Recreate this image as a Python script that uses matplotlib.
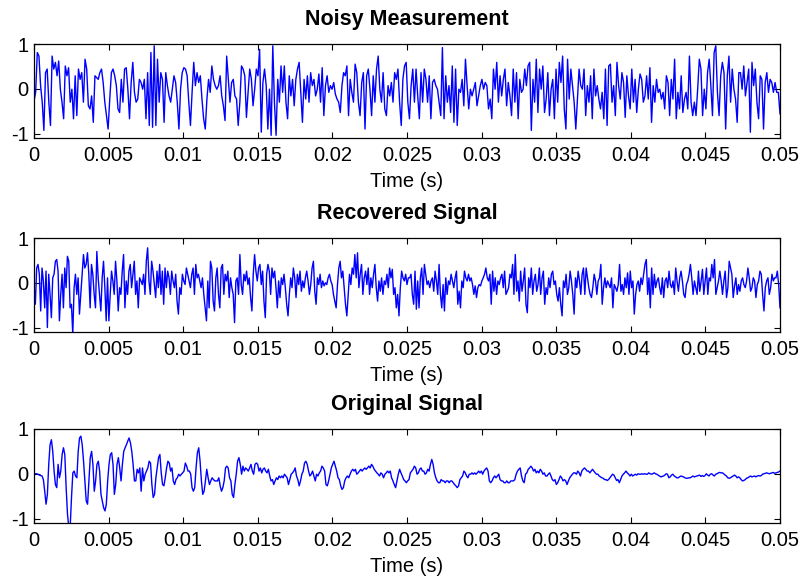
import numpy as np
import matplotlib
matplotlib.use("Agg")
import matplotlib.pyplot as plt

plt.rcParams['font.family'] = ['Liberation Sans', 'DejaVu Sans']

titles = ["Noisy Measurement", "Recovered Signal", "Original Signal"]
xlabel_text = "Time (s)"
x_ticks = [0, 0.005, 0.01, 0.015, 0.02, 0.025, 0.03, 0.035, 0.04, 0.045, 0.05]
x_tick_labels = ["0", "0.005", "0.01", "0.015", "0.02", "0.025", "0.03", "0.035", "0.04", "0.045", "0.05"]
y_ticks = [-1, 0, 1]
y_tick_labels = ["-1", "0", "1"]
duration = 0.05

noisy = [
    -0.27,-0.08,0.81,0.73,0.07,-0.30,-0.93,0.36,0.44,-0.30,-0.82,0.73,0.44,0.59,0.29,0.62,-0.01,-0.30,-0.67,0.51,
    0.29,0.47,-0.30,-0.01,-0.67,0.29,-0.60,0.44,0.21,0.36,-0.30,0.66,0.44,-0.38,-0.45,-0.16,-0.75,0.29,0.25,0.21,
    0.36,0.44,0.14,-0.30,-0.60,-0.90,-0.23,0.36,0.44,0.29,0.07,-0.45,-0.53,0.21,-0.30,0.44,0.47,-0.01,-0.67,0.14,
    0.59,-0.08,-0.30,-0.23,0.21,0.14,-0.01,0.21,-0.67,0.36,-0.82,0.81,-0.86,0.96,-0.82,0.66,-0.30,0.36,0.21,-0.75,
    0.36,0.07,-0.16,-0.30,-0.01,0.29,0.14,-0.30,-0.90,-0.01,0.36,0.47,0.44,0.29,-0.30,-0.82,-0.08,0.59,0.07,0.36,
    0.14,0.29,-0.23,-0.67,-0.90,-0.23,0.21,-0.08,0.51,0.21,0.07,-0.01,0.07,0.29,
    -0.16,-0.38,-0.71,0.73,0.21,-0.30,0.14,0.21,-0.16,-0.23,-0.82,-0.30,0.51,0.44,0.29,-0.64,-0.08,0.44,0.21,-0.38,
    -0.01,0.44,0.29,0.88,-0.97,0.14,0.44,0.07,-0.90,-0.01,-1.04,0.96,-0.30,-1.04,0.21,-0.30,0.51,-0.08,0.51,-0.30,
    -0.67,0.29,-0.16,0.21,-0.38,0.21,0.44,0.59,-0.08,-0.75,0.21,-0.23,0.29,-0.30,0.36,0.07,0.21,-0.16,-0.01,0.33,
    -0.30,0.47,-0.60,0.07,0.29,-0.08,0.07,-0.01,0.14,-0.12,-0.23,-0.30,-0.53,0.07,0.36,0.29,0.51,-0.60,0.21,-0.08,
    -0.30,0.55,0.36,-0.30,-0.60,0.14,0.36,-0.90,0.29,0.44,-0.01,-0.60,0.29,-0.30,0.44,0.73,-0.01,-0.30,0.36,-0.45,
    -0.60,0.07,-0.16,0.14,-0.30,0.36,0.21,0.44,-0.30,-0.82,0.21,0.51,0.59,-0.30,-0.67,0.07,0.44,
    -0.30,0.44,-0.16,-0.67,0.36,-0.30,0.44,0.21,-0.30,0.29,-0.67,0.14,0.21,0.07,-0.01,-0.30,-0.60,0.92,-0.67,0.29,
    -0.30,0.07,-0.53,0.51,-0.75,0.44,-0.82,-0.01,-0.08,0.21,-0.38,0.66,0.07,-0.45,-0.01,-0.16,-0.01,0.14,-0.38,-0.16,
    0.07,0.21,-0.01,0.14,0.07,-0.45,-0.23,-0.67,0.44,-0.01,0.59,-0.30,0.29,-0.16,0.21,0.44,-0.38,0.14,-0.16,-0.60,
    0.44,-0.30,0.36,-0.67,0.21,-0.08,-0.01,0.44,0.07,0.51,0.59,-0.93,0.21,-0.30,0.66,-0.53,0.44,-0.01,0.51,-0.53,
    -0.23,0.36,-0.60,-0.01,0.21,-0.67,0.44,-0.30,0.59,0.14,0.73,-0.45,-0.90,0.66,-0.23,0.44,0.07,-0.30,-0.90,-0.23,
    0.44,0.07,-0.01,0.44,-0.60,0.07,-0.30,0.29,-0.67,0.44,-0.16,0.07,-0.23,-0.45,
    -0.08,-0.67,0.44,-0.82,0.51,0.55,-0.30,0.07,-0.60,0.59,0.07,-0.23,0.36,0.14,-0.64,0.29,-0.16,-0.45,0.44,-0.30,
    0.21,-0.53,-0.01,0.33,0.21,-0.30,-0.16,0.29,-0.23,0.47,-0.75,0.07,-0.30,0.21,-0.08,-0.01,-0.23,-0.08,-0.45,0.29,
    0.14,-0.60,0.21,-0.23,0.66,-0.67,-0.08,-0.45,0.29,-0.53,-0.23,-0.08,-0.45,0.73,-0.30,-0.60,-0.30,-0.60,-0.01,0.66,
    0.44,-0.60,-0.01,-0.45,0.36,0.66,0.07,-0.60,0.81,0.96,-0.08,-0.60,0.29,0.59,0.36,-0.90,0.29,0.73,-0.30,0.44,
    -0.01,-0.23,-0.75,0.36,0.36,-0.01,0.51,-0.16,0.14,0.44,-0.97,0.59,0.07,0.44,-0.30,-0.67,0.29,0.21,-0.90,0.14,
    0.36,-0.08,0.21,0.14,-0.08,0.14,-0.08,-0.08,-0.56,
]

recovered = [
    -0.04,-0.48,0.33,0.41,0.19,-0.63,0.33,0.04,-0.56,0.26,-1.00,0.19,-0.26,-0.78,0.11,0.19,0.48,0.52,0.26,-0.85,
    -0.26,0.19,-0.56,0.33,-0.11,0.59,0.48,-0.56,-0.48,-1.15,-0.11,0.19,-0.26,0.11,-0.70,-0.26,0.19,0.63,0.33,0.41,
    0.67,0.19,-0.56,0.41,0.19,-0.26,-0.56,0.70,0.11,-0.26,-0.63,0.11,0.48,-0.11,-0.85,0.11,-0.85,-0.26,0.26,0.04,
    -0.26,0.48,0.04,-0.63,-0.11,-0.26,0.26,0.63,-0.56,0.04,-0.26,0.26,0.41,-0.11,0.19,0.48,-0.26,0.04,-0.56,0.11,
    0.04,-0.04,0.19,-0.26,0.48,0.78,0.04,-0.26,0.48,0.26,-0.04,-0.33,0.26,-0.11,0.41,-0.26,0.26,-0.48,0.33,-0.11,
    0.26,0.11,-0.26,0.26,0.04,-0.11,0.19,-0.41,-0.70,-0.11,-0.26,0.19,0.04,-0.04,0.33,0.19,0.04,-0.11,0.19,0.33,
    -0.26,0.41,0.11,0.19,0.04,-0.11,0.11,-0.26,-0.56,-0.85,0.04,-0.56,0.48,0.33,-0.41,-0.63,0.11,0.33,
    -0.26,-0.56,0.33,0.41,-0.26,0.19,0.04,0.26,-0.33,0.11,-0.11,-0.26,-0.89,0.04,0.11,-0.26,0.63,-0.04,-0.26,0.19,
    0.04,0.26,-0.04,0.11,-0.33,-0.63,0.19,0.63,0.26,0.04,0.33,0.41,-0.04,0.26,-0.41,-0.78,0.19,0.41,0.26,-0.26,
    0.33,0.11,0.26,-0.11,-0.56,0.04,-0.33,0.11,-0.04,0.19,-0.11,-0.48,-0.74,-0.26,0.11,-0.11,0.33,0.11,-0.33,0.19,
    -0.04,0.26,-0.19,0.04,-0.11,0.11,0.26,0.04,-0.26,-0.04,0.33,0.48,-0.19,-0.48,0.11,-0.04,0.19,-0.11,0.04,-0.07,
    0.00,-0.04,0.11,0.19,0.04,-0.04,-0.26,-0.41,-0.56,-0.04,0.33,0.48,0.11,0.26,-0.11,-0.48,-0.74,-0.26,0.19,-0.04,
    0.33,0.19,0.63,0.11,0.67,-0.11,0.19,0.41,-0.26,0.11,0.26,-0.04,0.33,-0.26,0.11,-0.11,0.19,0.41,-0.11,-0.41,
    0.04,-0.19,0.11,-0.26,0.04,-0.04,0.19,-0.11,0.33,0.11,0.30,-0.26,-0.11,-0.56,-0.26,-0.74,-0.11,0.26,0.11,0.04,
    0.19,-0.04,0.11,0.11,
    0.19,-0.26,-0.48,0.26,-0.59,0.04,-0.56,0.11,0.33,-0.26,0.41,0.19,-0.04,0.04,-0.11,0.04,0.11,-0.19,0.26,0.04,
    -0.26,0.41,-0.26,-0.56,-0.04,-0.63,0.11,-0.26,0.04,-0.04,0.19,0.04,-0.11,0.11,0.26,-0.48,-0.19,-0.56,0.04,-0.11,
    0.26,0.11,0.04,0.19,0.04,0.11,-0.04,-0.26,-0.07,-0.33,-0.11,-0.04,-0.07,0.04,0.11,0.19,0.33,0.11,0.04,0.19,
    -0.48,0.26,-0.19,0.11,-0.26,0.04,-0.04,0.11,0.19,-0.11,0.26,-0.26,-0.19,-0.11,0.19,0.11,0.41,-0.26,0.63,-0.19,
    0.04,-0.41,0.26,-0.19,0.04,0.33,-0.48,-0.67,0.11,-0.11,0.33,-0.26,0.04,0.19,-0.19,-0.04,0.33,-0.26,0.11,0.26,
    -0.48,-0.11,-0.26,0.11,-0.11,0.19,0.26,-0.04,0.04,-0.26,-0.41,-0.11,-0.48,-0.74,0.04,-0.11,0.19,-0.26,-0.11,0.26,
    0.04,-0.26,-0.70,0.11,-0.11,0.26,0.04,-0.26,0.19,0.33,-0.26,0.33,0.11,-0.11,-0.26,-0.33,-0.11,0.19,0.04,-0.26,
    0.04,0.11,
    0.41,-0.48,-0.11,0.11,-0.11,0.04,-0.04,-0.11,0.11,-0.56,-0.04,-0.11,-0.19,-0.04,0.41,-0.19,-0.04,-0.26,0.11,-0.11,
    0.22,-0.26,0.26,-0.11,0.04,-0.70,-0.26,-0.04,0.04,-0.19,0.11,-0.04,0.19,0.41,0.52,-0.26,0.11,-0.56,0.33,-0.26,
    0.19,-0.11,0.04,0.11,-0.11,-0.26,0.11,-0.33,0.04,0.11,-0.11,0.26,-0.04,-0.11,0.04,-0.26,0.33,0.04,-0.19,0.11,
    0.26,0.04,-0.26,-0.33,-0.04,0.04,0.19,0.41,0.11,-0.26,0.04,-0.11,-0.26,0.26,-0.19,0.04,0.30,-0.26,0.04,0.33,
    -0.26,0.11,0.04,0.41,0.11,0.52,-0.26,-0.11,0.04,0.26,0.04,-0.26,0.04,0.26,-0.33,-0.11,0.48,0.33,0.19,-0.33,
    -0.07,0.11,-0.26,-0.04,-0.19,0.04,0.11,-0.04,-0.11,0.04,0.33,0.11,-0.19,-0.11,0.11,0.04,-0.33,-0.04,0.04,0.26,
    0.19,-0.26,-0.63,-0.11,0.04,0.11,-0.26,-0.11,0.19,0.04,0.11,0.11,0.26,-0.04,-0.56,
]

original = [
    -0.01,0.00,0.00,-0.01,-0.03,-0.04,-0.05,-0.13,-0.39,-0.68,-0.46,0.21,0.65,0.76,0.50,0.06,-0.24,-0.31,0.21,-0.09,
    0.06,0.43,0.58,0.43,-0.31,-0.90,-1.20,-1.20,-0.53,0.02,0.06,-0.05,-0.09,0.50,0.80,0.84,0.65,0.28,-0.16,-0.61,
    -0.68,-0.16,0.36,0.50,0.21,-0.39,-0.16,0.21,0.28,0.06,-0.46,-0.61,-0.76,-0.83,-0.68,-0.16,0.21,0.43,0.47,0.21,
    -0.46,-0.24,0.21,0.36,0.13,-0.16,0.21,0.50,0.58,0.65,0.73,0.80,0.69,0.50,0.21,-0.16,-0.16,0.10,0.02,0.13,
    -0.39,0.13,-0.16,-0.01,0.06,0.13,0.28,0.24,-0.24,-0.53,-0.46,-0.09,0.13,0.36,0.43,0.02,-0.24,-0.27,-0.09,0.13,
    0.28,0.24,0.06,0.13,-0.16,-0.24,-0.13,-0.09,-0.01,-0.05,-0.01,0.02,0.06,0.24,0.17,0.06,0.06,-0.01,-0.31,-0.39,
    -0.31,0.13,0.47,0.58,0.28,-0.16,-0.46,-0.39,-0.16,0.10,-0.09,-0.24,-0.16,-0.09,-0.13,-0.16,-0.16,
    -0.16,-0.09,-0.27,-0.39,-0.31,-0.16,0.13,0.17,0.13,-0.09,-0.16,-0.46,-0.53,-0.24,-0.01,0.28,0.36,0.21,-0.01,0.17,
    0.06,0.13,0.10,0.06,0.13,0.21,0.06,-0.01,0.21,0.24,0.21,0.06,0.13,0.02,0.10,0.13,0.06,0.02,0.10,-0.05,
    -0.16,-0.13,-0.24,-0.16,-0.09,-0.13,-0.05,-0.09,-0.05,-0.09,-0.01,-0.05,-0.09,-0.24,-0.13,-0.01,0.02,0.06,0.13,-0.05,
    -0.13,-0.27,-0.16,-0.01,0.06,0.24,0.28,0.21,0.06,-0.05,-0.01,0.06,-0.05,-0.16,-0.01,-0.05,0.02,0.06,0.17,0.13,
    0.06,-0.24,-0.27,-0.16,-0.01,0.13,0.21,0.28,0.17,0.06,-0.09,-0.13,-0.27,-0.35,-0.31,-0.16,-0.09,-0.05,-0.09,-0.01,
    0.06,0.10,0.06,0.10,-0.01,0.02,0.06,0.10,0.06,0.10,0.13,0.10,0.13,0.17,0.13,0.21,0.17,0.10,0.06,0.02,
    -0.01,-0.05,0.02,-0.01,-0.09,-0.01,0.02,0.06,0.02,0.06,-0.09,-0.16,-0.24,-0.31,-0.16,-0.01,0.10,0.02,-0.05,-0.13,
    -0.16,-0.20,-0.16,-0.13,
    0.02,0.06,0.10,0.17,0.13,-0.01,0.02,0.10,0.13,0.06,0.06,-0.01,0.02,0.10,0.06,0.21,0.32,0.21,0.02,-0.09,
    -0.16,-0.20,-0.20,-0.13,-0.16,-0.16,-0.20,-0.16,-0.16,-0.20,-0.16,-0.16,-0.20,-0.24,-0.27,-0.31,-0.27,-0.13,-0.09,-0.05,
    0.06,0.02,-0.05,-0.09,-0.01,-0.01,0.02,-0.01,0.02,-0.01,0.02,0.06,0.02,0.06,-0.01,0.06,0.10,0.13,0.06,-0.16,
    -0.20,-0.16,-0.09,-0.05,-0.09,-0.05,-0.01,-0.13,-0.16,-0.16,-0.20,-0.20,-0.16,-0.20,-0.20,-0.16,-0.16,-0.16,-0.13,-0.01,
    0.06,0.10,0.13,-0.05,-0.16,-0.20,-0.01,0.02,0.10,0.13,0.17,0.13,0.06,0.10,0.02,0.06,0.02,0.10,0.06,-0.01,
    0.02,-0.05,-0.05,-0.01,0.02,-0.05,-0.13,-0.16,-0.13,-0.24,-0.20,-0.13,-0.05,-0.09,-0.16,-0.13,-0.16,-0.24,-0.16,-0.09,
    -0.05,-0.01,0.02,0.02,-0.01,0.06,0.02,-0.05,0.06,0.10,0.13,0.10,0.06,0.06,0.02,0.06,0.10,0.06,0.02,-0.01,
    -0.01,-0.05,
    -0.07,-0.09,-0.10,-0.13,-0.13,-0.15,-0.13,-0.09,-0.05,-0.01,-0.03,-0.09,-0.15,-0.13,-0.20,-0.13,-0.05,-0.01,0.02,0.06,
    0.02,-0.01,-0.05,-0.01,-0.05,-0.03,-0.01,-0.03,0.00,-0.01,-0.01,0.00,-0.01,0.00,-0.01,-0.01,0.02,0.00,-0.01,0.00,
    0.02,0.00,-0.01,-0.03,-0.05,-0.07,-0.06,-0.05,-0.03,0.00,-0.01,-0.09,-0.07,-0.03,-0.01,-0.05,-0.07,-0.09,-0.09,-0.07,
    -0.05,-0.06,-0.07,-0.09,-0.10,-0.10,-0.09,-0.09,-0.07,-0.05,-0.07,-0.06,-0.05,-0.04,-0.03,-0.06,-0.04,-0.06,-0.04,0.00,
    -0.03,-0.05,-0.01,0.00,-0.03,-0.05,-0.01,0.00,0.02,0.03,0.02,0.02,0.00,-0.03,-0.05,-0.09,-0.10,-0.09,-0.07,-0.05,
    -0.03,-0.05,-0.09,-0.07,-0.09,-0.13,-0.16,-0.15,-0.13,-0.10,-0.09,-0.07,-0.05,-0.07,-0.06,-0.05,-0.07,-0.05,-0.04,-0.05,
    -0.04,-0.01,0.00,0.01,0.02,0.01,0.00,0.01,0.02,0.03,0.01,0.02,0.03,0.04,0.06,
]

series = [noisy, recovered, original]

fig = plt.figure(figsize=(8.06, 5.79), dpi=100)
fig.patch.set_facecolor('white')

left = 34 / 806
width = 746 / 806
height = 94 / 579
bottoms = [(579 - 138) / 579, (579 - 332) / 579, (579 - 523) / 579]

for title, vals, b in zip(titles, series, bottoms):
    ax = fig.add_axes([left, b, width, height])
    t = np.linspace(0, duration, len(vals))
    ax.plot(t, vals, color='#0000FF', linewidth=1.0)
    ax.set_xlim(0, duration)
    ax.set_ylim(-1.1, 1.0)
    ax.set_xticks(x_ticks)
    ax.set_xticklabels(x_tick_labels)
    ax.set_yticks(y_ticks)
    ax.set_yticklabels(y_tick_labels)
    ax.tick_params(direction='in', length=4, width=0.8, top=True, right=True,
                   labelsize=14.5, colors='black')
    ax.tick_params(axis='x', pad=6)
    ax.tick_params(axis='y', pad=4)
    for sp in ax.spines.values():
        sp.set_linewidth(0.9)
        sp.set_color('black')
    ax.set_title(title, fontsize=15.5, fontweight='bold', pad=14)
    ax.set_xlabel(xlabel_text, fontsize=14.5, labelpad=5)

fig.savefig('out.png', dpi=100)
